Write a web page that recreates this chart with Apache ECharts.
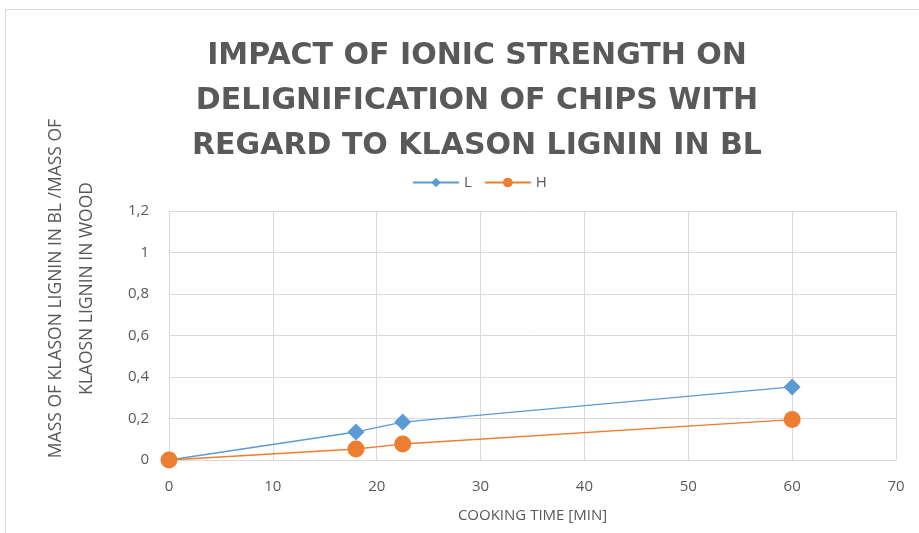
<!DOCTYPE html>
<html>
<head>
<meta charset="utf-8">
<script src="https://cdn.jsdelivr.net/npm/echarts@6/dist/echarts.min.js"></script>
<style>
  html, body { margin: 0; padding: 0; background: #fff; }
  #chart { width: 919px; height: 533px; }
</style>
</head>
<body>
<div id="chart"></div>
<script>
  // values
  var cookingTime = [0, 18, 22.5, 60];
  var seriesL = [0, 0.135, 0.183, 0.352];
  var seriesH = [0, 0.053, 0.077, 0.195];
  var titleLines = [
    'IMPACT OF IONIC STRENGTH ON',
    'DELIGNIFICATION OF CHIPS WITH',
    'REGARD TO KLASON LIGNIN IN BL'
  ];

  function pairs(xs, ys) {
    return xs.map(function (x, i) { return [x, ys[i]]; });
  }

  var chart = echarts.init(document.getElementById('chart'));
  var font = 'Open Sans';

  chart.setOption({
    backgroundColor: '#fff',
    animation: false,
    graphic: [{
      type: 'rect',
      shape: { x: 5.5, y: 9.5, width: 930, height: 540 },
      style: { fill: 'none', stroke: '#d9d9d9', lineWidth: 1 }
    }],
    title: {
      text: titleLines.join('\n'),
      left: 472,
      top: 29,
      textAlign: 'center',
      textStyle: {
        fontFamily: 'DejaVu Sans',
        fontWeight: 'bold',
        fontSize: 30,
        lineHeight: 45,
        color: '#595959'
      }
    },
    legend: {
      top: 170,
      left: 407,
      itemWidth: 46,
      itemHeight: 12,
      itemGap: 12,
      textStyle: { fontFamily: font, fontSize: 15, color: '#595959' },
      data: ['L', 'H']
    },
    grid: { left: 169, right: 23, top: 211, bottom: 73, outerBoundsMode: 'none', containLabel: false },
    xAxis: {
      type: 'value',
      min: 0, max: 70, interval: 10,
      name: 'COOKING TIME [MIN]',
      nameLocation: 'middle',
      nameGap: 48,
      nameTextStyle: { fontFamily: font, fontSize: 15, color: '#595959' },
      axisLine: { show: true, lineStyle: { color: '#d9d9d9' } },
      axisTick: { show: false },
      axisLabel: { fontFamily: font, fontSize: 15, color: '#595959', margin: 19 },
      splitLine: { show: true, lineStyle: { color: '#d9d9d9' } }
    },
    yAxis: {
      type: 'value',
      min: 0, max: 1.2, interval: 0.2,
      name: 'MASS OF KLASON LIGNIN IN BL /MASS OF\nKLAOSN LIGNIN IN WOOD',
      nameLocation: 'middle',
      nameGap: 66,
      nameTextStyle: {
        fontFamily: font, fontSize: 17.5, color: '#595959', lineHeight: 31,
        padding: [0, 0, 0, 94]
      },
      axisLine: { show: true, lineStyle: { color: '#d9d9d9' } },
      axisTick: { show: false },
      axisLabel: {
        fontFamily: font, fontSize: 15, color: '#595959', margin: 20,
        formatter: function (v) { return String(+v.toFixed(1)).replace('.', ','); }
      },
      splitLine: { show: true, lineStyle: { color: '#d9d9d9' } }
    },
    series: [
      {
        name: 'L',
        type: 'line',
        data: pairs(cookingTime, seriesL),
        symbol: 'diamond',
        symbolSize: 17,
        itemStyle: { color: '#5b9bd5' },
        lineStyle: { color: '#5b9bd5', width: 1.3 },
        z: 3
      },
      {
        name: 'H',
        type: 'line',
        data: pairs(cookingTime, seriesH),
        symbol: 'circle',
        symbolSize: 17,
        itemStyle: { color: '#ed7d31' },
        lineStyle: { color: '#ed7d31', width: 1.3 },
        z: 4
      }
    ]
  });
</script>
</body>
</html>
